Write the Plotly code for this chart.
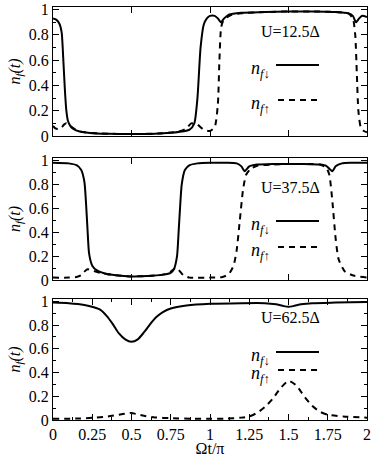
import plotly.graph_objects as go

# ---- panel 1 : U = 12.5 Delta ----
x1_down = [0, 0.02, 0.04, 0.055, 0.065, 0.075, 0.085, 0.095, 0.11, 0.13, 0.17, 0.25, 0.35, 0.5, 0.65, 0.75, 0.82,
           0.87, 0.9, 0.92, 0.94, 0.96, 0.98, 1.0, 1.03, 1.05, 1.07, 1.09, 1.12, 1.2, 1.35, 1.5, 1.65, 1.8,
           1.88, 1.91, 1.93, 1.95, 1.97, 2.0]
y1_down = [0.93, 0.92, 0.89, 0.82, 0.62, 0.38, 0.2, 0.12, 0.08, 0.055, 0.035, 0.022, 0.017, 0.015, 0.018, 0.025, 0.035,
           0.05, 0.1, 0.3, 0.7, 0.88, 0.93, 0.95, 0.95, 0.93, 0.9, 0.93, 0.96, 0.975, 0.98, 0.985, 0.985, 0.98,
           0.97, 0.95, 0.9, 0.93, 0.95, 0.94]
x1_up = [0, 0.015, 0.03, 0.05, 0.07, 0.085, 0.1, 0.12, 0.15, 0.2, 0.3, 0.5, 0.7, 0.8, 0.85, 0.88, 0.92, 0.96,
         1.0, 1.03, 1.05, 1.06, 1.07, 1.08, 1.1, 1.13, 1.2, 1.35, 1.5, 1.65, 1.8, 1.88, 1.91, 1.925, 1.935,
         1.945, 1.96, 1.98, 2.0]
y1_up = [0.08, 0.06, 0.055, 0.06, 0.09, 0.1, 0.09, 0.07, 0.045, 0.03, 0.02, 0.015, 0.022, 0.035, 0.06, 0.1, 0.09, 0.05,
         0.04, 0.07, 0.25, 0.6, 0.85, 0.9, 0.93, 0.955, 0.97, 0.98, 0.985, 0.985, 0.98, 0.97, 0.93, 0.8, 0.5,
         0.2, 0.07, 0.04, 0.03]

# ---- panel 2 : U = 37.5 Delta ----
x2_down = [0, 0.1, 0.15, 0.18, 0.2, 0.21, 0.22, 0.23, 0.25, 0.28, 0.33, 0.4, 0.5, 0.6, 0.7, 0.75, 0.77, 0.79, 0.8,
           0.81, 0.82, 0.84, 0.87, 0.92, 1.0, 1.1, 1.17, 1.2, 1.22, 1.25, 1.3, 1.4, 1.5, 1.6, 1.7, 1.74, 1.76,
           1.78, 1.8, 1.84, 1.9, 2.0]
y2_down = [0.98, 0.975, 0.96, 0.92, 0.82, 0.65, 0.42, 0.22, 0.12, 0.08, 0.055, 0.04, 0.03, 0.033, 0.045, 0.06, 0.09,
           0.2, 0.4, 0.62, 0.8, 0.92, 0.96, 0.975, 0.98, 0.98, 0.975, 0.95, 0.91, 0.95, 0.965, 0.97, 0.97, 0.97, 0.965,
           0.955, 0.93, 0.91, 0.95, 0.975, 0.98, 0.98]
x2_up = [0, 0.1, 0.15, 0.18, 0.2, 0.22, 0.25, 0.3, 0.4, 0.5, 0.6, 0.7, 0.75, 0.78, 0.8, 0.83, 0.87, 1.0, 1.08,
         1.12, 1.15, 1.17, 1.19, 1.21, 1.23, 1.26, 1.3, 1.4, 1.5, 1.6, 1.7, 1.74, 1.76, 1.78, 1.8, 1.82,
         1.86, 1.92, 2.0]
y2_up = [0.02, 0.02, 0.025, 0.04, 0.07, 0.09, 0.08, 0.06, 0.04, 0.03, 0.033, 0.045, 0.07, 0.1, 0.085, 0.04, 0.02, 0.02,
         0.025, 0.05, 0.12, 0.25, 0.5, 0.75, 0.88, 0.93, 0.955, 0.965, 0.97, 0.97, 0.965, 0.94, 0.88, 0.65, 0.35,
         0.17, 0.07, 0.035, 0.02]

# ---- panel 3 : U = 62.5 Delta ----
x3_down = [0, 0.1, 0.2, 0.26, 0.3, 0.34, 0.38, 0.42, 0.46, 0.5, 0.54, 0.58, 0.62, 0.66, 0.7, 0.75, 0.85, 1.0, 1.2,
           1.35, 1.42, 1.47, 1.5, 1.53, 1.58, 1.65, 1.8, 2.0]
y3_down = [0.99, 0.985, 0.97, 0.95, 0.93, 0.88, 0.81, 0.73, 0.68, 0.66, 0.68, 0.74, 0.81, 0.87, 0.91, 0.94, 0.965, 0.98, 0.985,
           0.985, 0.975, 0.96, 0.955, 0.96, 0.975, 0.985, 0.99, 0.995]
x3_up = [0, 0.15, 0.25, 0.35, 0.42, 0.47, 0.5, 0.53, 0.58, 0.65, 0.75, 0.9, 1.0, 1.1, 1.2, 1.25, 1.3, 1.35,
         1.4, 1.45, 1.5, 1.55, 1.6, 1.65, 1.7, 1.75, 1.85, 2.0]
y3_up = [0.01, 0.012, 0.018, 0.03, 0.045, 0.055, 0.06, 0.05, 0.035, 0.022, 0.015, 0.01, 0.01, 0.012, 0.02, 0.03, 0.06, 0.11,
         0.18, 0.27, 0.33, 0.29, 0.2, 0.12, 0.07, 0.045, 0.03, 0.02]

u_labels = ["U=12.5Δ", "U=37.5Δ", "U=62.5Δ"]
down_label = "<i>n</i><sub><i>f</i>↓</sub>"
up_label = "<i>n</i><sub><i>f</i>↑</sub>"
x_ticks = [0, 0.25, 0.5, 0.75, 1, 1.25, 1.5, 1.75, 2]
x_ticktext = ["0", "0.25", "0.5", "0.75", "1", "1.25", "1.5", "1.75", "2"]
y_ticks = [0, 0.2, 0.4, 0.6, 0.8, 1]
y_ticktext = ["0", "0.2", "0.4", "0.6", "0.8", "1"]

FONT = "Liberation Serif, Times New Roman, DejaVu Serif, serif"
W, H = 374, 457
mt, mb, ml, mr = 7, 37, 53, 7

panels = [
    (x1_down, y1_down, x1_up, y1_up, (7, 136)),
    (x2_down, y2_down, x2_up, y2_up, (158, 280)),
    (x3_down, y3_down, x3_up, y3_up, (299, 420)),
]

ph = H - mt - mb


def dom(top, bot):
    return [(H - mb - bot) / ph, (H - mb - top) / ph]


fig = go.Figure()
layout = {}
for i, (xd, yd, xu, yu, (top, bot)) in enumerate(panels):
    n = "" if i == 0 else str(i + 1)
    xa, ya = "x" + n, "y" + n
    fig.add_trace(go.Scatter(x=xd, y=yd, mode="lines", xaxis=xa, yaxis=ya, showlegend=False, hoverinfo="skip",
                             line=dict(color="black", width=2, shape="spline", smoothing=0.6)))
    fig.add_trace(go.Scatter(x=xu, y=yu, mode="lines", xaxis=xa, yaxis=ya, showlegend=False, hoverinfo="skip",
                             line=dict(color="black", width=2, dash="6px,5px", shape="spline", smoothing=0.6)))
    last = i == 2
    layout["xaxis" + n] = dict(
        domain=[0, 1], anchor=ya, range=[0, 2], showline=True, linecolor="black", linewidth=1,
        mirror="allticks", ticks="inside", ticklen=6, tickcolor="black", showgrid=False, zeroline=False,
        automargin=False,
        tickvals=x_ticks if last else [0.5, 1, 1.5], ticktext=x_ticktext if last else None,
        showticklabels=last,
        minor=dict(ticks="inside", ticklen=3, dtick=0.125, tick0=0, tickcolor="black") if last else None,
        tickfont=dict(family=FONT, size=16, color="black"),
        title=dict(text="Ωt/π", font=dict(family=FONT, size=16, color="black"), standoff=4) if last else None,
    )
    layout["yaxis" + n] = dict(
        domain=dom(top, bot), anchor=xa, range=[0, 1.02], showline=True, linecolor="black", linewidth=1,
        mirror="allticks", ticks="inside", ticklen=6, tickcolor="black", showgrid=False, zeroline=False,
        automargin=False,
        tickvals=y_ticks, ticktext=y_ticktext,
        minor=dict(ticks="inside", ticklen=3, dtick=0.1, tick0=0, tickcolor="black"),
        tickfont=dict(family=FONT, size=16, color="black"),
        title=dict(text="<i>n<sub>f</sub>(t)</i>", font=dict(family=FONT, size=16, color="black"), standoff=4),
    )

# annotation text positions in pixels of the reference frame
ann_rows = [
    (31, 65, 100),
    (187, 221, 247),
    (317, 352, 370),
]
annotations = []
shapes = []
for i, ((top, bot), (yu_, yl1, yl2)) in enumerate(zip([p[4] for p in panels], ann_rows)):
    n = "" if i == 0 else str(i + 1)
    hgt = bot - top
    fy = lambda py: (bot - py) / hgt
    fx = lambda px: (px - ml) / (W - ml - mr)
    common = dict(xref="x" + n + " domain", yref="y" + n + " domain", showarrow=False, yanchor="middle")
    annotations.append(dict(text=u_labels[i], x=fx(290), y=fy(yu_), xanchor="center",
                            font=dict(family=FONT, size=16, color="black"), **common))
    annotations.append(dict(text=down_label, x=fx(272), y=fy(yl1 + 4), xanchor="right",
                            font=dict(family=FONT, size=18, color="black"), **common))
    annotations.append(dict(text=up_label, x=fx(272), y=fy(yl2 + 4), xanchor="right",
                            font=dict(family=FONT, size=18, color="black"), **common))
    shapes.append(dict(type="line", xref="x" + n + " domain", yref="y" + n + " domain",
                       x0=fx(276), x1=fx(319), y0=fy(yl1), y1=fy(yl1),
                       line=dict(color="black", width=2)))
    shapes.append(dict(type="line", xref="x" + n + " domain", yref="y" + n + " domain",
                       x0=fx(278), x1=fx(321), y0=fy(yl2), y1=fy(yl2),
                       line=dict(color="black", width=2, dash="6px,5px")))

fig.update_layout(
    **layout,
    annotations=annotations,
    shapes=shapes,
    width=W, height=H,
    margin=dict(t=mt, b=mb, l=ml, r=mr),
    paper_bgcolor="white", plot_bgcolor="white",
    showlegend=False,
)

# the page body has a default 8px margin; drop it so the figure sits at the window corner
fig.write_html("out.html", config={"displayModeBar": False},
               post_script="document.body.style.margin='0';")
